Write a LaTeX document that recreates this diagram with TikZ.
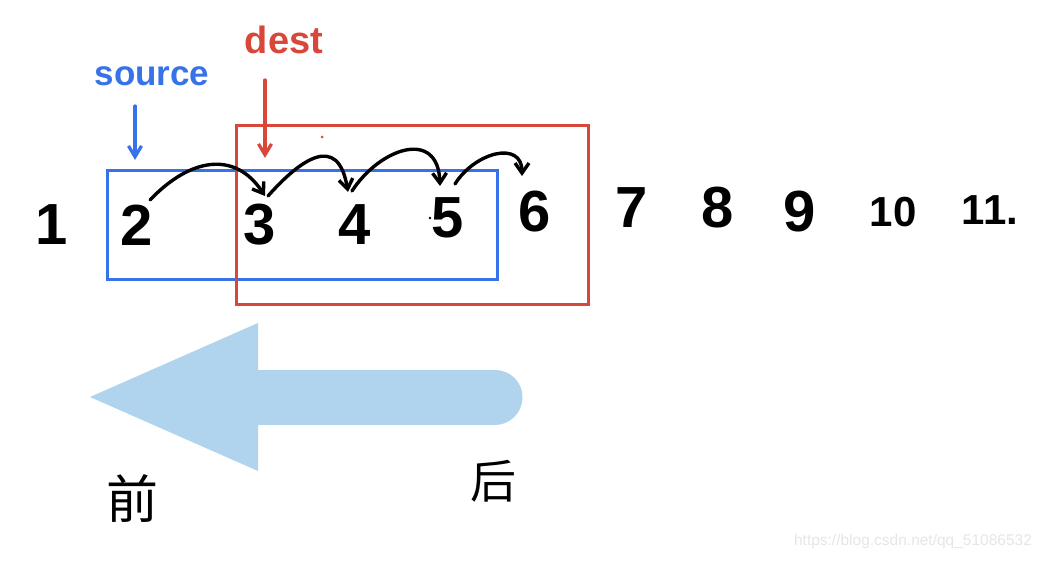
\documentclass[tikz,border=0pt]{standalone}
\usepackage{fontspec}
\setmainfont{Liberation Sans}
\newfontfamily\cjk{Noto Sans CJK SC}
\usetikzlibrary{arrows.meta}
\definecolor{srcblue}{HTML}{3872E8}
\definecolor{dstred}{HTML}{D8473A}
\definecolor{lightarrow}{HTML}{B0D3EE}
\definecolor{wmgray}{HTML}{E6E6E6}
\tikzset{
  num/.style={font=\bfseries\fontsize{58}{58}\selectfont, inner sep=0pt, text=black},
  smallnum/.style={font=\bfseries\fontsize{42}{42}\selectfont, inner sep=0pt, text=black},
  hop/.style={line width=3.4pt, black, line cap=round, -{Straight Barb[length=10pt,width=14pt]}},
  srcbox/.style={draw=srcblue, line width=3pt},
  dstbox/.style={draw=dstred, line width=3pt},
  ptr/.style={line width=3.2pt, line cap=round, -{Straight Barb[length=11pt,width=13pt]}},
}
\begin{document}
\begin{tikzpicture}[x=1pt,y=-1pt]
\useasboundingbox (0,0) rectangle (1044,561);
\fill[white] (0,0) rectangle (1044,561);
% boxes
\draw[srcbox] (107,171) rectangle (497,280);
\draw[dstbox] (236,126) rectangle (588,305);
% numbers
\node[num] (n1) at (52,225) {1};
\node[num] (n2) at (137,225) {2};
\node[num] (n3) at (260,225) {3};
\node[num] (n4) at (355,225) {4};
\node[num] (n5) at (448,218) {5};
\node[num] (n6) at (535,212) {6};
\node[num] (n7) at (632,208) {7};
\node[num] (n8) at (718,208) {8};
\node[num] (n9) at (800,212) {9};
\node[smallnum] (n10) at (893,212) {10};
\node[smallnum] (n11) at (990,210) {11.};
% labels
\node[font=\bfseries\fontsize{35}{35}\selectfont, text=srcblue, inner sep=0pt] (src) at (152,76) {source};
\node[font=\bfseries\fontsize{38}{38}\selectfont, text=dstred, inner sep=0pt] (dst) at (284,40) {dest};
\coordinate (srcS) at (135,106);
\coordinate (srcE) at (135,160);
\coordinate (dstS) at (265,80);
\coordinate (dstE) at (265,158);
\draw[ptr, srcblue] (srcS) -- (srcE);
\draw[ptr, dstred] (dstS) -- (dstE);
% hops
\coordinate (h2) at (150,200);
\coordinate (h3) at (265,196);
\coordinate (h3b) at (268,196);
\coordinate (h4) at (348,192);
\coordinate (h4b) at (352,191);
\coordinate (h5) at (440,186);
\coordinate (h5b) at (455,184);
\coordinate (h6) at (522,176);
\draw[hop] (h2) .. controls (190,158) and (235,150) .. (h3);
\draw[hop] (h3b) .. controls (300,160) and (338,132) .. (h4);
\draw[hop] (h4b) .. controls (380,148) and (438,128) .. (h5);
\draw[hop] (h5b) .. controls (475,152) and (522,140) .. (h6);
% stray dots
\fill[dstred] (322,137) circle (1.5);
\fill[black] (430,218) circle (1.4);
% big arrow
\coordinate (shaftL) at (258,397);
\coordinate (shaftR) at (495,397);
\coordinate (tip) at (90,397);
\draw[lightarrow, line width=55pt, line cap=round] (shaftL) -- (shaftR);
\fill[lightarrow] (tip) -- (258,323) -- (258,471) -- cycle;
% chinese labels
\node[font=\cjk\fontsize{52}{52}\selectfont, inner sep=0pt] (qian) at (132,499) {前};
\node[font=\cjk\fontsize{46}{46}\selectfont, inner sep=0pt] (hou) at (493,481) {后};
% watermark
\node[font=\fontsize{15.5}{15.5}\selectfont, text=wmgray, inner sep=0pt] (wm) at (913,541) {https://blog.csdn.net/qq\_51086532};
\end{tikzpicture}
\end{document}
